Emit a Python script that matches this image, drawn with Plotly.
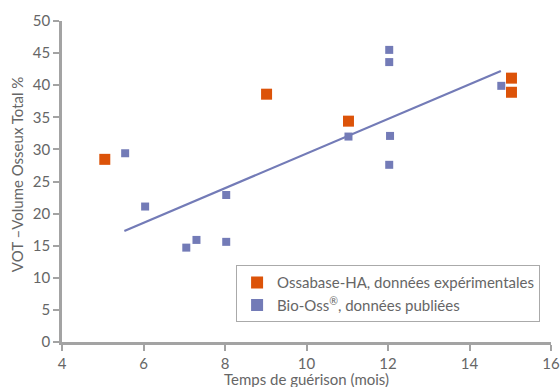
import plotly.graph_objects as go

ossa_x = [5.05, 9.02, 11.03, 15.03, 15.03]
ossa_y = [28.45, 38.6, 34.4, 41.1, 38.9]

bio_x = [5.55, 6.04, 7.05, 7.30, 8.03, 8.03, 11.03, 12.03, 12.03, 12.05, 12.03, 14.78]
bio_y = [29.4, 21.1, 14.7, 15.9, 22.9, 15.6, 32.0, 45.5, 43.6, 32.1, 27.6, 39.9]

trend_x = [5.53, 14.77]
trend_y = [17.3, 42.2]

x_ticks = [4, 6, 8, 10, 12, 14, 16]
y_ticks = [0, 5, 10, 15, 20, 25, 30, 35, 40, 45, 50]

x_title = "Temps de guérison (mois)"
y_title = "VOT –Volume Osseux Total %"

ORANGE = "#DC5309"
BLUE = "#737BB7"
AXIS = "#A3A3A3"
TXT = "#666666"
FONT = "Lato"

fig = go.Figure()
fig.add_trace(go.Scatter(x=trend_x, y=trend_y, mode="lines",
                         line=dict(color=BLUE, width=2.2), showlegend=False, hoverinfo="skip"))
fig.add_trace(go.Scatter(x=ossa_x, y=ossa_y, mode="markers",
                         name="Ossabase-HA, données expérimentales",
                         marker=dict(symbol="square", size=11, color=ORANGE)))
fig.add_trace(go.Scatter(x=bio_x, y=bio_y, mode="markers",
                         name="Bio-Oss<sup>®</sup>, données publiées",
                         marker=dict(symbol="square", size=8, color=BLUE)))

fig.update_layout(
    width=560, height=387,
    margin=dict(l=62, r=9, t=21, b=45),
    paper_bgcolor="white", plot_bgcolor="white",
    font=dict(family=FONT, color=TXT, size=13),
    legend=dict(x=0.356, y=0.239, xanchor="left", yanchor="top",
                bordercolor="#AAAAAA", borderwidth=1, bgcolor="white",
                font=dict(size=15, color=TXT), itemsizing="constant",
                tracegroupgap=0),
    xaxis=dict(range=[4, 16], tickvals=x_ticks, ticktext=[str(v) for v in x_ticks],
               showgrid=False, zeroline=False, showline=True, linecolor=AXIS, linewidth=2.5,
               ticks="outside", ticklen=6, tickwidth=2, tickcolor=AXIS, automargin=False,
               tickfont=dict(size=15, color=TXT)),
    yaxis=dict(range=[0, 50], tickvals=y_ticks,
               showgrid=False, zeroline=False, showline=True, linecolor=AXIS, linewidth=2.5,
               ticks="outside", ticklen=6, tickwidth=2, tickcolor=AXIS, automargin=False,
               tickfont=dict(size=15, color=TXT)),
    annotations=[
        dict(text=x_title, xref="paper", yref="paper", x=0.499, y=-0.114,
             xanchor="center", yanchor="middle", showarrow=False,
             font=dict(size=15, color=TXT)),
        dict(text=y_title, xref="paper", yref="paper", x=-0.092, y=0.523,
             xanchor="center", yanchor="middle", showarrow=False, textangle=-90,
             font=dict(size=15, color=TXT)),
    ],
)

fig.write_html("out.html", config={"displayModeBar": False},
               post_script="document.body.style.margin='0';document.body.style.overflow='hidden';")
